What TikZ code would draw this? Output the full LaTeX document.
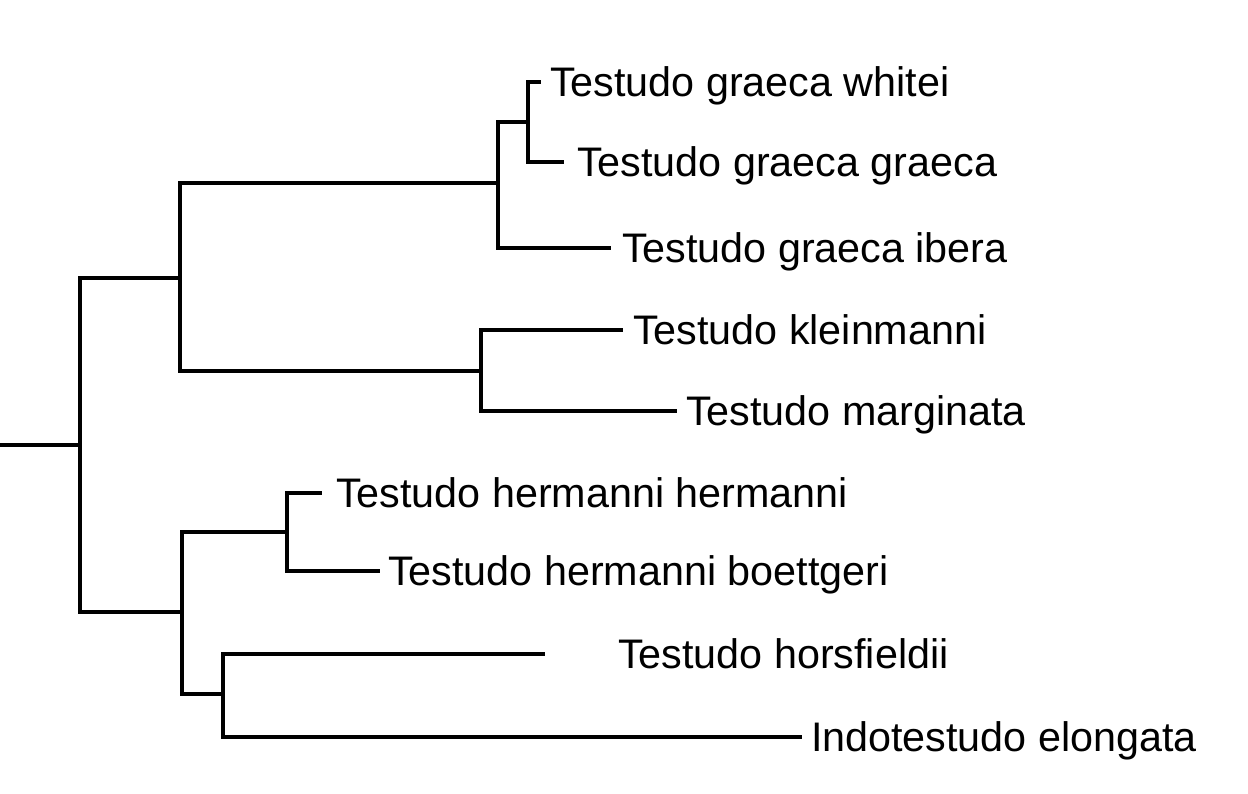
\documentclass[tikz,border=0pt]{standalone}
\usepackage{fontspec}
\setmainfont{Liberation Sans}
\begin{document}
\begin{tikzpicture}[x=1pt,y=-1pt,
  branch/.style={line width=3.4pt, line cap=rect, line join=miter, black},
  lab/.style={anchor=base west, inner sep=0pt, outer sep=0pt, yshift=-14.8pt,
    font=\fontsize{41.3}{49}\selectfont}]
\useasboundingbox (0,0) rectangle (1248,794);
% internal nodes
\coordinate (n0) at (0,445);
\coordinate (n1) at (80,445);
\coordinate (A) at (180,278);
\coordinate (A1) at (498,183);
\coordinate (A11) at (528,122);
\coordinate (A2) at (481,371);
\coordinate (B) at (182,612);
\coordinate (B1) at (287,532);
\coordinate (B2) at (223,694);
% leaf ends
\coordinate (whe) at (539,82);
\coordinate (gge) at (562,162);
\coordinate (ibe) at (609,248);
\coordinate (kle) at (621,330);
\coordinate (mae) at (675,411);
\coordinate (hhe) at (320,493);
\coordinate (hbe) at (378,571);
\coordinate (hoe) at (543,654);
\coordinate (ele) at (800,737);
% labels
\node[lab] (wh) at (550,82) {Testudo graeca whitei};
\node[lab] (gg) at (577,162) {Testudo graeca graeca};
\node[lab] (ib) at (622,248) {Testudo graeca ibera};
\node[lab] (kl) at (633,330) {Testudo kleinmanni};
\node[lab] (ma) at (686,411) {Testudo marginata};
\node[lab] (hh) at (336,493) {Testudo hermanni hermanni};
\node[lab] (hb) at (388,571) {Testudo hermanni boettgeri};
\node[lab] (ho) at (618,654) {Testudo horsfieldii};
\node[lab] (el) at (811,737) {Indotestudo elongata};
% branches
\draw[branch] (n0) -- (n1);
\draw[branch] (n1) |- (A);
\draw[branch] (n1) |- (B);
\draw[branch] (A) |- (A1);
\draw[branch] (A) |- (A2);
\draw[branch] (A1) |- (A11);
\draw[branch] (A1) |- (ibe);
\draw[branch] (A11) |- (whe);
\draw[branch] (A11) |- (gge);
\draw[branch] (A2) |- (kle);
\draw[branch] (A2) |- (mae);
\draw[branch] (B) |- (B1);
\draw[branch] (B) |- (B2);
\draw[branch] (B1) |- (hhe);
\draw[branch] (B1) |- (hbe);
\draw[branch] (B2) |- (hoe);
\draw[branch] (B2) |- (ele);
\end{tikzpicture}
\end{document}
